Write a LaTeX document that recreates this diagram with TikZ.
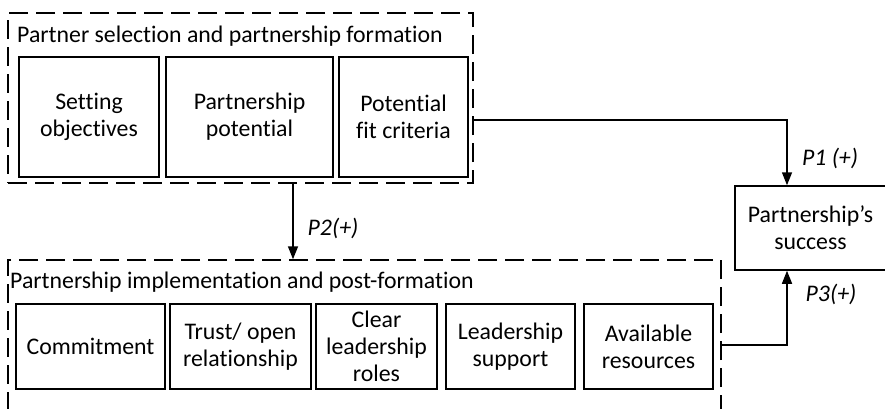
\documentclass[tikz,border=0pt]{standalone}
\usepackage{fontspec}
\setmainfont[Ligatures=NoCommon]{Carlito}
\usetikzlibrary{arrows.meta}
\begin{document}
\begin{tikzpicture}[x=1pt,y=-1pt,
  solidbox/.style={draw, line width=1.5pt, inner sep=0pt, align=center, font=\fontsize{23.8}{27}\selectfont},
  dashbox/.style={draw, line width=1.5pt, dash pattern=on 19pt off 8pt, inner sep=0pt},
  ttl/.style={inner sep=0pt, anchor=base west, font=\fontsize{23.8}{27}\selectfont},
  lbl/.style={inner sep=0pt, font=\fontsize{23.8}{27}\selectfont\itshape},
  arr/.style={line width=1.5pt, -{Triangle[length=13pt,width=10pt]}}]
\useasboundingbox (0,0) rectangle (885,408);
% groups
\node[dashbox, minimum width=465pt, minimum height=170pt] (grp1) at (240.5,98) {};
\node[dashbox, minimum width=713pt, minimum height=170pt] (grp2) at (364.5,345) {};
\node[ttl] (t1) at (17,42) {Partner selection and partnership formation};
\node[ttl] (t2) at (10,288) {Partnership implementation and post-formation};
% top boxes
\node[solidbox, minimum width=140pt, minimum height=120pt] (b1) at (89,117) {Setting\\objectives};
\node[solidbox, minimum width=167pt, minimum height=120pt] (b2) at (249.5,117) {Partnership\\potential};
\node[solidbox, minimum width=129pt, minimum height=120pt] (b3) at (403.5,117) {Potential\\fit criteria};
% bottom boxes
\node[solidbox, minimum width=149pt, minimum height=85pt] (c1) at (90.5,346.5) {Commitment};
\node[solidbox, minimum width=141pt, minimum height=85pt] (c2) at (240.5,346.5) {Trust/ open\\relationship};
\node[solidbox, minimum width=121pt, minimum height=85pt] (c3) at (376.5,346.5) {Clear\\leadership\\roles};
\node[solidbox, minimum width=129pt, minimum height=85pt] (c4) at (510.5,346.5) {Leadership\\support};
\node[solidbox, minimum width=129pt, minimum height=85pt] (c5) at (648.5,346.5) {Available\\resources};
% outcome
\node[solidbox, minimum width=151pt, minimum height=84pt] (succ) at (810.5,228) {Partnership’s\\success};
% connectors
\draw[arr] ([yshift=-3pt]grp1.east |- b3.east) -| ([xshift=-23.5pt]succ.north);
\draw[arr] ([xshift=52.5pt]grp1.south) -- ([xshift=52.5pt]grp1.south |- grp2.north);
\draw[arr] (grp2.east) -| ([xshift=-23.5pt]succ.south);
% labels
\node[lbl] (l1) at (830,158) {P1 (+)};
\node[lbl] (l2) at (333,228) {P2(+)};
\node[lbl] (l3) at (831,294) {P3(+)};
\end{tikzpicture}
\end{document}
